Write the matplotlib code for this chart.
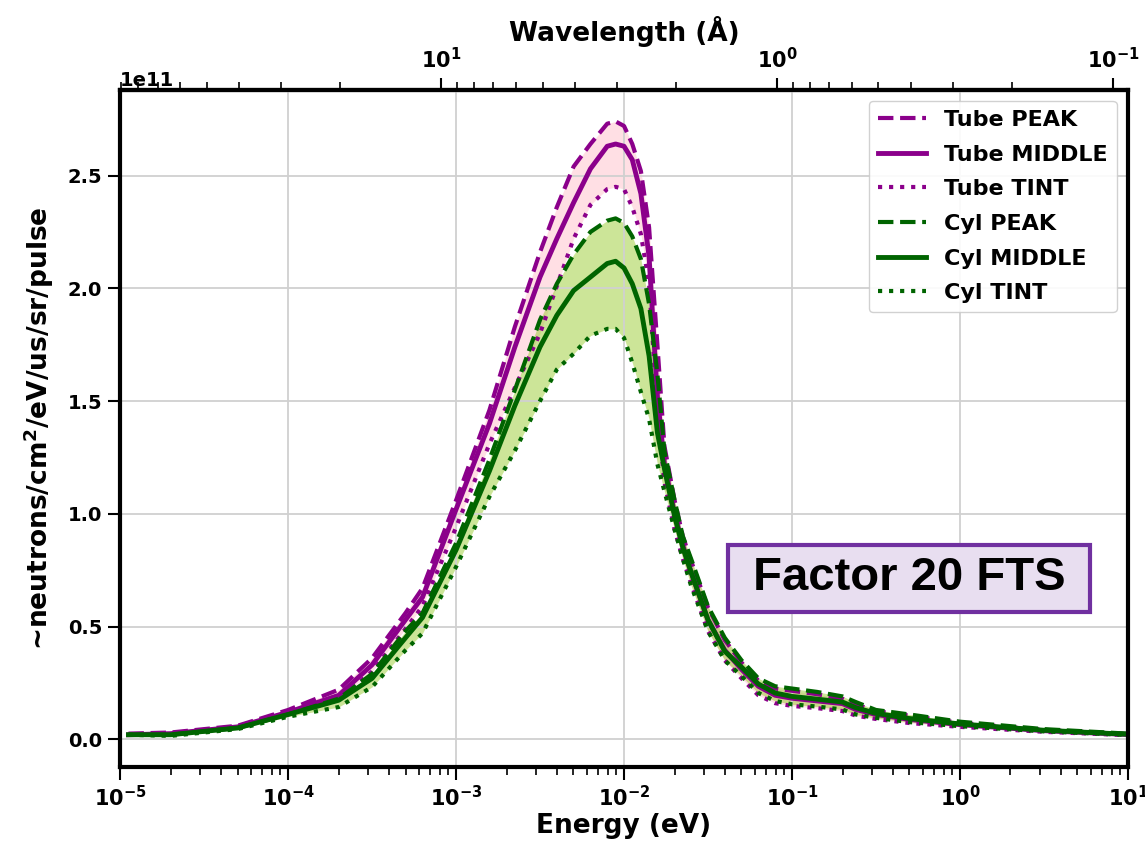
import numpy as np
import matplotlib
matplotlib.use("Agg")
import matplotlib.pyplot as plt
from matplotlib.ticker import MultipleLocator

# Energy grid (eV) and flux (units of 1e11 neutrons/cm2/eV/us/sr/pulse)
energy = [1.12e-5, 2.0e-5, 3.16e-5, 5.0e-5, 1.0e-4, 2.0e-4, 3.16e-4, 5.0e-4, 6.31e-4,
          1.0e-3, 1.58e-3, 2.24e-3, 3.16e-3, 3.98e-3, 5.01e-3, 6.31e-3, 7.94e-3, 8.91e-3,
          1.0e-2, 1.12e-2, 1.26e-2, 1.41e-2, 1.58e-2, 1.74e-2, 2.0e-2, 2.24e-2, 2.51e-2,
          3.16e-2, 3.98e-2, 5.01e-2, 6.31e-2, 7.94e-2, 0.1, 0.141, 0.2, 0.24, 0.316,
          0.5, 1.0, 3.16, 10.0]

tube_peak = [0.025, 0.03, 0.045, 0.06, 0.13, 0.22, 0.36, 0.56, 0.67,
             1.06, 1.46, 1.83, 2.16, 2.36, 2.54, 2.64, 2.73, 2.74,
             2.72, 2.64, 2.52, 2.27, 1.75, 1.30, 1.06, 0.90, 0.79,
             0.585, 0.44, 0.34, 0.26, 0.225, 0.215, 0.20, 0.18, 0.155, 0.125,
             0.105, 0.073, 0.042, 0.023]
tube_middle = [0.02, 0.025, 0.04, 0.055, 0.12, 0.195, 0.33, 0.53, 0.63,
               1.02, 1.40, 1.74, 2.05, 2.22, 2.38, 2.53, 2.63, 2.64,
               2.63, 2.57, 2.42, 2.14, 1.52, 1.22, 1.00, 0.86, 0.74,
               0.53, 0.395, 0.31, 0.235, 0.195, 0.182, 0.17, 0.158, 0.132, 0.11,
               0.088, 0.065, 0.038, 0.021]
tube_tint = [0.02, 0.022, 0.035, 0.05, 0.11, 0.18, 0.30, 0.49, 0.59,
             0.94, 1.31, 1.56, 1.80, 2.01, 2.22, 2.37, 2.44, 2.45,
             2.44, 2.36, 2.24, 2.02, 1.45, 1.14, 0.93, 0.80, 0.69,
             0.48, 0.35, 0.27, 0.195, 0.16, 0.148, 0.138, 0.125, 0.105, 0.09,
             0.072, 0.055, 0.033, 0.018]
cyl_peak = [0.02, 0.02, 0.035, 0.05, 0.11, 0.18, 0.29, 0.48, 0.56,
            0.87, 1.24, 1.55, 1.86, 2.02, 2.15, 2.25, 2.30, 2.31,
            2.29, 2.23, 2.13, 1.93, 1.62, 1.28, 1.06, 0.90, 0.80,
            0.59, 0.45, 0.35, 0.27, 0.235, 0.225, 0.21, 0.19, 0.165, 0.13,
            0.11, 0.078, 0.045, 0.025]
cyl_middle = [0.02, 0.02, 0.035, 0.05, 0.11, 0.173, 0.27, 0.45, 0.54,
              0.84, 1.19, 1.48, 1.74, 1.88, 1.99, 2.05, 2.11, 2.12,
              2.09, 2.02, 1.91, 1.70, 1.36, 1.20, 0.99, 0.85, 0.74,
              0.53, 0.39, 0.32, 0.245, 0.205, 0.19, 0.178, 0.165, 0.14, 0.115,
              0.092, 0.068, 0.04, 0.022]
cyl_tint = [0.02, 0.015, 0.03, 0.045, 0.10, 0.143, 0.232, 0.395, 0.47,
            0.765, 1.076, 1.28, 1.50, 1.64, 1.71, 1.79, 1.82, 1.82,
            1.78, 1.67, 1.54, 1.42, 1.22, 1.10, 0.93, 0.80, 0.68,
            0.48, 0.35, 0.28, 0.205, 0.17, 0.155, 0.145, 0.132, 0.11, 0.095,
            0.076, 0.058, 0.035, 0.019]

scale = 1e11

plt.rcParams['font.family'] = ['DejaVu Sans']
plt.rcParams['font.weight'] = 'bold'
plt.rcParams['axes.labelweight'] = 'bold'
plt.rcParams['mathtext.default'] = 'bf'


def e_to_lam(e):
    e = np.asarray(e, dtype=float)
    return 0.286 / np.sqrt(np.clip(e, 1e-30, None))


def lam_to_e(lam):
    lam = np.asarray(lam, dtype=float)
    return (0.286 / np.clip(lam, 1e-30, None)) ** 2


fig, ax = plt.subplots(figsize=(11.45, 8.48), dpi=100)
fig.subplots_adjust(left=0.105, right=0.985, bottom=0.095, top=0.894)

e = np.array(energy)
tp = np.array(tube_peak) * scale
tm = np.array(tube_middle) * scale
tt = np.array(tube_tint) * scale
cp = np.array(cyl_peak) * scale
cm = np.array(cyl_middle) * scale
ct = np.array(cyl_tint) * scale

tube_c = 'darkmagenta'
cyl_c = 'darkgreen'

ax.fill_between(e, tt, tp, color='pink', alpha=0.5, lw=0)
ax.plot(e, tp, '--', color=tube_c, lw=3, label='Tube PEAK')
ax.plot(e, tm, '-', color=tube_c, lw=3.5, label='Tube MIDDLE')
ax.plot(e, tt, ':', color=tube_c, lw=3, label='Tube TINT')
ax.fill_between(e, ct, cp, color='yellowgreen', alpha=0.5, lw=0)
ax.plot(e, cp, '--', color=cyl_c, lw=3, label='Cyl PEAK')
ax.plot(e, cm, '-', color=cyl_c, lw=3.5, label='Cyl MIDDLE')
ax.plot(e, ct, ':', color=cyl_c, lw=3, label='Cyl TINT')

ax.set_xscale('log')
ax.set_xlim(1e-5, 10)
ax.set_ylim(-0.125e11, 2.88e11)
ax.yaxis.set_major_locator(MultipleLocator(0.5e11))

ax.set_xlabel('Energy (eV)', fontsize=19, labelpad=2)
ax.set_ylabel('~neutrons/cm$^{2}$/eV/us/sr/pulse', fontsize=19, labelpad=8)
ax.grid(True, which='major', color='#d0d0d0', linewidth=1.3)

ax.tick_params(which='major', length=9, width=1.5, labelsize=15, pad=4)
ax.tick_params(which='minor', length=6, width=1.2)
ax.tick_params(axis='y', labelsize=14)
ax.yaxis.get_offset_text().set_fontsize(14)
ax.yaxis.get_offset_text().set_fontweight('bold')
for sp in ax.spines.values():
    sp.set_linewidth(3)

secax = ax.secondary_xaxis('top', functions=(e_to_lam, lam_to_e))
secax.set_xlabel('Wavelength (Å)', fontsize=19, labelpad=4)
secax.tick_params(which='major', length=9, width=1.5, labelsize=15, pad=4)
secax.tick_params(which='minor', length=6, width=1.2)
secax.spines['top'].set_linewidth(3)

ax.legend(loc='upper right', prop={'weight': 'bold', 'size': 16},
          handlelength=2.2, labelspacing=0.66, framealpha=0.9,
          borderaxespad=0.5)

ax.text(0.783, 0.279, ' Factor 20 FTS ', transform=ax.transAxes,
        ha='center', va='center', fontsize=34, family='Liberation Sans',
        weight='bold',
        bbox=dict(boxstyle='square,pad=0.24', fc='#e8def0', ec='#7030a0', lw=3))

fig.savefig('out.png', dpi=100)
